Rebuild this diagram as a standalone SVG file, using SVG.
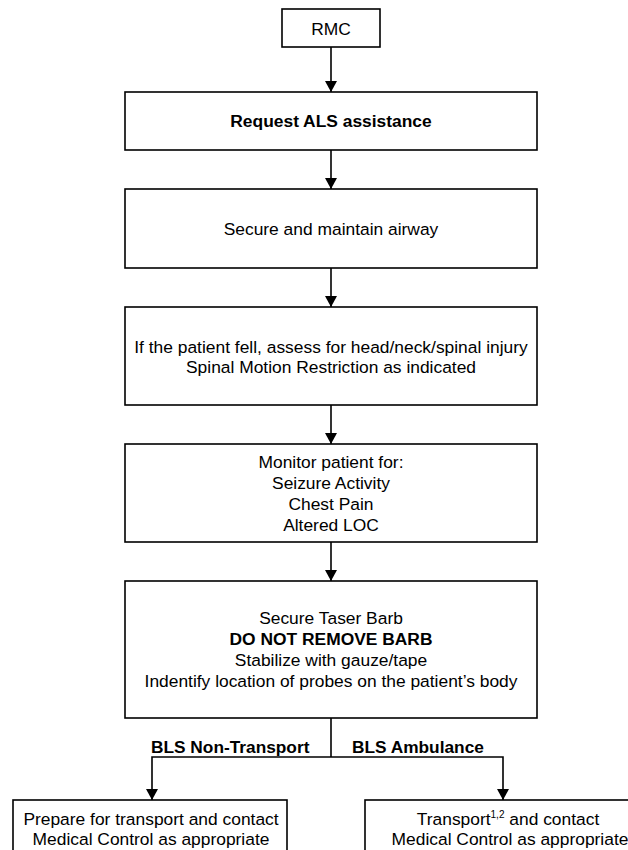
<svg xmlns="http://www.w3.org/2000/svg" width="628" height="850" viewBox="0 0 628 850">
<style>
.box{fill:#fff;stroke:#000;stroke-width:1.6}
.t{font-family:"Liberation Sans",Arial,sans-serif;font-size:17.4px;fill:#000;text-anchor:middle}
.b{font-weight:bold}
.lbl{font-family:"Liberation Sans",Arial,sans-serif;font-size:17.3px;font-weight:bold;fill:#000}
.c{fill:none;stroke:#000;stroke-width:1.6}
</style>
<defs>
<marker id="ah" viewBox="0 0 11 12" refX="11" refY="6" markerWidth="11" markerHeight="12" markerUnits="userSpaceOnUse" orient="auto">
<path d="M0,0 L11,6 L0,12 z" fill="#000"/>
</marker>
</defs>
<rect width="628" height="850" fill="#fff"/>
<g id="connectors">
<line class="c" x1="331" y1="47" x2="331" y2="92" marker-end="url(#ah)"/>
<line class="c" x1="331" y1="150" x2="331" y2="189" marker-end="url(#ah)"/>
<line class="c" x1="331" y1="268" x2="331" y2="307" marker-end="url(#ah)"/>
<line class="c" x1="331" y1="405" x2="331" y2="444" marker-end="url(#ah)"/>
<line class="c" x1="331" y1="542" x2="331" y2="581" marker-end="url(#ah)"/>
<line class="c" x1="331" y1="718" x2="331" y2="757"/>
<polyline class="c" points="331,757 152,757 152,800" marker-end="url(#ah)"/>
<polyline class="c" points="331,757 503,757 503,800" marker-end="url(#ah)"/>
<text class="lbl" x="151" y="753">BLS Non-Transport</text>
<text class="lbl" x="352" y="753">BLS Ambulance</text>
</g>
<g id="rmc">
<rect class="box" x="282" y="9" width="98" height="38"/>
<text class="t" x="331" y="35">RMC</text>
</g>
<g id="request-als">
<rect class="box" x="125" y="92" width="412" height="58"/>
<text class="t b" x="331" y="127">Request ALS assistance</text>
</g>
<g id="airway">
<rect class="box" x="125" y="189" width="412" height="79"/>
<text class="t" x="331" y="235">Secure and maintain airway</text>
</g>
<g id="spinal">
<rect class="box" x="125" y="307" width="412" height="98"/>
<text class="t" x="331" y="353">If the patient fell, assess for head/neck/spinal injury</text>
<text class="t" x="331" y="373">Spinal Motion Restriction as indicated</text>
</g>
<g id="monitor">
<rect class="box" x="125" y="444" width="412" height="98"/>
<text class="t" x="331" y="468">Monitor patient for:</text>
<text class="t" x="331" y="489">Seizure Activity</text>
<text class="t" x="331" y="510">Chest Pain</text>
<text class="t" x="331" y="531">Altered LOC</text>
</g>
<g id="taser">
<rect class="box" x="125" y="581" width="412" height="137"/>
<text class="t" x="331" y="624">Secure Taser Barb</text>
<text class="t b" x="331" y="645">DO NOT REMOVE BARB</text>
<text class="t" x="331" y="666">Stabilize with gauze/tape</text>
<text class="t" x="331" y="687">Indentify location of probes on the patient’s body</text>
</g>
<g id="non-transport">
<rect class="box" x="13" y="800" width="274" height="70"/>
<text class="t" x="151" y="825">Prepare for transport and contact</text>
<text class="t" x="151" y="845">Medical Control as appropriate</text>
</g>
<g id="ambulance">
<rect class="box" x="365" y="800" width="290" height="70"/>
<text class="t" x="508" y="825">Transport<tspan font-size="10" dy="-7">1,2</tspan><tspan dy="7"> and contact</tspan></text>
<text class="t" x="510" y="845">Medical Control as appropriate</text>
</g>
</svg>
